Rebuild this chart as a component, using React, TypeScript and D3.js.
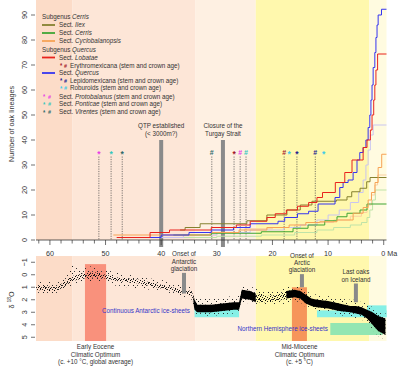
import React from 'react';
import * as d3 from 'd3';

// geologic time bands (Ma)
const epochNames = ['Paleocene', 'Eocene', 'Oligocene', 'Neogene', 'Quaternary'];
const epochStart = [62.5, 56, 33.9, 23, 2.58];
const epochEnd = [56, 33.9, 23, 2.58, -0.5];

// lineages through time: [age (Ma), number of lineages]
const ilex = [[36.6, 4], [35.7, 5], [33, 6.5], [24.6, 7.7], [21, 10], [17.4, 12], [15, 14], [12.9, 15.5], [8.5, 16], [6.6, 17.3], [5.75, 19.3], [4.26, 20.7], [3.06, 23.3], [2.46, 25]];
const cerris = [[37.8, 2], [31, 2.7], [22, 3.3], [16.3, 4.7], [13.6, 6], [10.6, 7.7], [8.4, 9.3], [6.6, 10.7], [4.26, 12], [3, 14.4]];
const cyclobalanopsis = [[48.6, 2], [31.2, 3], [26, 4], [21, 5], [17, 6], [14, 7], [11.5, 7.3], [8.4, 8], [5.5, 10.7], [3.7, 13], [2.8, 16], [2.2, 19], [1.56, 23], [1.0, 29], [0.36, 34.3]];
const lobatae = [[48, 1], [42, 3], [38.5, 4], [31, 5], [26.5, 6], [24, 7.5], [21, 9], [19.5, 10.5], [17.5, 12], [15.5, 13.5], [13.5, 15], [12, 17], [11, 19], [8.7, 23], [7, 27], [5.7, 32], [3.7, 37], [3, 40], [2.4, 44], [2.1, 50], [1.8, 56], [1.6, 62], [1.4, 68], [1.1, 74.4]];
const quercus = [[45, 1], [40, 2], [35, 3], [31, 4], [27, 5], [24, 6.5], [19, 7.5], [17.8, 9], [15.5, 10.5], [13.5, 11.5], [11.8, 14.4], [8.75, 17], [7.9, 21], [7.3, 23], [6.4, 24], [5.5, 27], [4.8, 32], [4.3, 35], [3.7, 37], [3.2, 40], [2.8, 45], [2.5, 50], [2.3, 56], [2.1, 62], [1.9, 69], [1.6, 75], [1.4, 81], [1.2, 86], [1.0, 90], [0.4, 92.3]];
const cyclobalanopsisCrown = [[44, 1], [36, 2], [30, 3], [25, 4.5], [20, 5], [16, 6], [12, 7], [9, 8], [6, 9.5], [4, 11], [3, 14], [2.2, 18], [1.6, 22], [1.1, 26]];
const cerrisCrown = [[40, 1], [30, 1.5], [22, 2], [16, 3], [12, 4], [9, 5], [6, 6], [4, 7], [3, 9], [2.5, 12], [2, 16], [1.5, 20]];
const quercusCrown = [[42, 1], [36, 2], [30, 3], [24, 4], [18, 5], [15, 6], [12, 8], [10, 10], [8, 12], [6, 15], [4.5, 19], [3.7, 24], [3.2, 30], [2.8, 36], [2.4, 42], [1.9, 46]];

// stem (*) and crown (#) ages of informal groups
const eventAges = [51.2, 49.0, 47.0, 30.9, 26.9, 25.8, 24.75, 17.9, 17.0, 15.6, 12.3, 10.8];
const eventSymbols = ['*', '*', '*', '#', '*', '#', '#', '#', '*', '*', '#', '*'];
const eventGroups = ['proto', 'ponticae', 'virentes', 'virentes', 'erythro', 'proto', 'ponticae', 'erythro', 'robur', 'lepido', 'lepido', 'robur'];
const eventHasLine = [true, true, true, true, true, true, true, true, false, true, true, false];

// oxygen isotope record: age, core band and outer scatter (δ18O ‰)
const d18oAge = [62.5, 61, 59, 57.5, 56, 55, 54, 52, 50, 48, 46, 44, 42, 40, 38, 36, 34.5, 34, 33.5, 31, 29, 27, 26, 25.5, 24, 23, 21, 19, 17.5, 16, 15, 14, 13, 12, 10, 8, 6, 5, 4, 3, 2, 1, -0.3];
const d18oCoreLo = [0.9, 0.9, 1.0, 0.6, 0.1, 0.0, -0.1, -0.2, 0.0, 0.2, 0.3, 0.4, 0.6, 0.8, 1.0, 1.2, 1.3, 2.0, 2.4, 2.4, 2.3, 2.2, 2.2, 1.2, 1.3, 1.5, 1.7, 1.6, 1.3, 1.2, 1.3, 1.6, 1.9, 2.0, 2.1, 2.3, 2.5, 2.5, 2.6, 2.8, 3.0, 3.3, 3.5];
const d18oCoreHi = [1.2, 1.3, 1.3, 1.0, 0.5, 0.4, 0.3, 0.2, 0.3, 0.5, 0.6, 0.7, 0.9, 1.1, 1.3, 1.5, 1.7, 2.8, 3.0, 3.0, 2.9, 2.8, 2.8, 1.9, 2.0, 2.2, 2.2, 2.1, 1.9, 1.8, 1.9, 2.3, 2.5, 2.6, 2.7, 2.9, 3.0, 3.1, 3.2, 3.5, 4.0, 4.5, 4.8];
const d18oLo = [0.6, 0.5, 0.6, 0.3, -0.9, -0.5, -0.6, -0.7, -0.4, -0.2, 0.0, 0.1, 0.3, 0.4, 0.7, 0.9, 1.0, 1.6, 1.8, 1.9, 1.8, 1.7, 1.7, 0.9, 1.0, 1.0, 1.3, 1.2, 1.0, 0.9, 1.0, 1.3, 1.5, 1.6, 1.7, 1.9, 2.0, 2.0, 2.2, 2.3, 2.6, 2.9, 3.0];
const d18oHi = [1.5, 1.5, 1.5, 1.3, 0.8, 0.7, 0.6, 0.5, 0.6, 0.9, 1.0, 1.1, 1.2, 1.3, 1.5, 1.8, 2.0, 3.0, 3.2, 3.3, 3.2, 3.1, 3.0, 2.2, 2.3, 2.5, 2.5, 2.4, 2.3, 2.1, 2.2, 2.6, 2.8, 2.9, 3.0, 3.2, 3.4, 3.5, 3.6, 3.8, 4.4, 4.9, 5.2];
const denseSpans = [[34.2, 23], [17.5, -0.5]];

// climate events
const optimumNames = ['EECO', 'MMCO'];
const optimumFrom = [53.7, 16.5];
const optimumTo = [49.9, 13.8];
const optimumTop = [-0.85, 1.0];
const optimumCaptions = [['Early Eocene', 'Climatic Optimum', '(c. +10 °C, global average)'], ['Mid-Miocene', 'Climatic Optimum', '(c. +5 °C)']];
const iceFrom = [34, 12, 3, 9.6];
const iceTo = [26, -0.5, -0.5, 0.2];
const iceTop = [2.55, 2.85, 2.45, 3.86];
const iceBottom = [3.4, 3.4, 3.4, 4.82];
const iceKinds = ['antarctic', 'antarctic', 'antarctic', 'northern'];

const topBarAges = [40.0, 28.9];
const topBarTop = [40, 40];
const topBarLabels = [['QTP established', '(< 3000m?)'], ['Closure of the', 'Turgay Strait']];
const botBarAges = [35.9, 14.7, 5.0];
const botBarFrom = [-0.15, -0.05, 0.7];
const botBarTo = [1.5, 1.0, 2.2];
const botBarLabels = [['Onset of', 'Antarctic', 'glaciation'], ['Onset of', 'Arctic', 'glaciation'], ['Last oaks', 'on Iceland']];

const yTicksTop = [0, 10, 20, 30, 40, 50, 60, 70, 80, 90];
const yTicksBot = [-1, 0, 1, 2, 3, 4, 5];

const epochColors = ['#fcdcc8', '#fde6d7', '#fef0e2', '#fff8ad', '#fffbe0'];
const colors = {
  ilex: '#85812f', cerris: '#3fa535', cyclo: '#f7a355', lobatae: '#e8231d', quercus: '#3535f0',
  cycloPale: '#f9cfa2', cerrisPale: '#bfe3a8', quercusPale: '#c9c5f0',
  erythro: '#a3162a', lepido: '#20208e', robur: '#3ccbe8', proto: '#e83ce6', ponticae: '#33c7bd', virentes: '#2e6a6a',
};
const font = "'Liberation Sans', Arial, sans-serif";
const SX = 0.9; // narrow the text a little, the original uses a condensed face

const x = d3.scaleLinear().domain([62.5, -0.5]).range([36, 386.5]);
const yTop = d3.scaleLinear().domain([0, 96]).range([240, 0]);
const yBot = d3.scaleLinear().domain([-1.5, 5.3]).range([256, 341]);

const stepLine = d3.line<number[]>().x(d => x(d[0])).y(d => yTop(d[1])).curve(d3.curveStepAfter);
const withEnd = (s: number[][]) => [...s, [-0.5, s[s.length - 1][1]]];

const series = [
  { data: cerrisCrown, color: colors.cerrisPale },
  { data: cyclobalanopsisCrown, color: colors.cycloPale },
  { data: quercusCrown, color: colors.quercusPale },
  { data: cerris, color: colors.cerris },
  { data: ilex, color: colors.ilex },
  { data: cyclobalanopsis, color: colors.cyclo },
  { data: quercus, color: colors.quercus },
  { data: lobatae, color: colors.lobatae },
];

const d18o = d18oAge.map((a, i) => ({ a, cl: d18oCoreLo[i], ch: d18oCoreHi[i], l: d18oLo[i], h: d18oHi[i] }));
const outerArea = d3.area<any>().x(d => x(d.a)).y0(d => yBot(d.l)).y1(d => yBot(d.h));
const coreArea = d3.area<any>().x(d => x(d.a)).y0(d => yBot(d.cl)).y1(d => yBot(d.ch));

const T = ({ x: tx, y: ty, rot, anchor, size = 7, fill = '#333', children, ...rest }: any) => (
  <text transform={`translate(${tx},${ty})${rot ? ` rotate(${rot})` : ''} scale(${SX},1)`}
    textAnchor={anchor} fontSize={size} fill={fill} {...rest}>{children}</text>
);

const Legend = () => {
  const lineRows = [
    { y: 25, color: colors.ilex, name: 'Ilex' },
    { y: 33, color: colors.cerris, name: 'Cerris' },
    { y: 41, color: colors.cyclo, name: 'Cyclobalanopsis' },
    { y: 57.5, color: colors.lobatae, name: 'Lobatae' },
    { y: 73, color: colors.quercus, name: 'Quercus' },
  ];
  const subRows = [
    { y: 65.5, group: 'erythro', label: 'Erythromexicana (stem and crown age)' },
    { y: 80.5, group: 'lepido', label: 'Lepidomexicana (stem and crown age)' },
    { y: 88, group: 'robur', label: 'Roburoids (stem and crown age)' },
  ];
  const sectRows = [
    { y: 96.5, group: 'proto', name: 'Protobalanus' },
    { y: 104, group: 'ponticae', name: 'Ponticae' },
    { y: 112, group: 'virentes', name: 'Virentes' },
  ];
  return (
    <g>
      <T x={42} y={17} dy="0.35em">Subgenus <tspan fontStyle="italic">Cerris</tspan></T>
      <T x={42} y={49.5} dy="0.35em">Subgenus <tspan fontStyle="italic">Quercus</tspan></T>
      {lineRows.map(r => (
        <g key={r.name}>
          <line x1={42} x2={55} y1={r.y} y2={r.y} stroke={r.color} strokeWidth={1.8} />
          <T x={59} y={r.y} dy="0.35em">Sect. <tspan fontStyle="italic">{r.name}</tspan></T>
        </g>
      ))}
      {subRows.map(r => (
        <g key={r.label}>
          <T x={60} y={r.y + 0.5} dy="0.35em" fill={(colors as any)[r.group]} fontWeight="bold" size={6.5}>*</T>
          <T x={64} y={r.y} dy="0.35em" fill={(colors as any)[r.group]} fontWeight="bold" size={6}>#</T>
          <T x={70} y={r.y} dy="0.35em">{r.label}</T>
        </g>
      ))}
      {sectRows.map(r => (
        <g key={r.name}>
          <T x={43} y={r.y + 0.5} dy="0.35em" fill={(colors as any)[r.group]} fontWeight="bold" size={6.5}>*</T>
          <T x={48} y={r.y} dy="0.35em" fill={(colors as any)[r.group]} fontWeight="bold" size={6}>#</T>
          <T x={59} y={r.y} dy="0.35em">Sect. <tspan fontStyle="italic">{r.name}</tspan> (stem and crown age)</T>
        </g>
      ))}
    </g>
  );
};

const App = () => {
  const xTicks = d3.range(62, -1, -2);
  const markerY = yTop(35);
  const clipRects = denseSpans.map(s => ({ x0: x(s[0]), x1: x(s[1]) }));
  return (
    <div style={{ position: 'absolute', left: 0, top: 0 }}>
      <svg width={400} height={366} fontFamily={font} style={{ display: 'block', background: '#fff' }}>
        <defs>
          <pattern id="dotsSparse" width={9} height={7} patternUnits="userSpaceOnUse">
            <rect x={0} y={0} width={1} height={1} fill="#222" />
            <rect x={4} y={2} width={1} height={1} fill="#333" />
            <rect x={7} y={5} width={1} height={1} fill="#222" />
            <rect x={2} y={5} width={1} height={1} fill="#444" />
          </pattern>
          <pattern id="dotsCore" width={5} height={4} patternUnits="userSpaceOnUse">
            <rect x={0} y={0} width={1} height={1} fill="#000" />
            <rect x={2} y={1} width={1} height={1} fill="#222" />
            <rect x={4} y={2} width={1} height={1} fill="#000" />
            <rect x={1} y={3} width={1} height={1} fill="#333" />
            <rect x={3} y={3} width={1} height={1} fill="#111" />
          </pattern>
          <clipPath id="denseClip">
            {clipRects.map((c, i) => <rect key={i} x={c.x0} y={250} width={c.x1 - c.x0} height={100} />)}
          </clipPath>
        </defs>

        {/* epoch backgrounds, both panels */}
        {epochNames.map((n, i) => (
          <g key={n}>
            <rect x={x(epochStart[i])} y={0} width={x(epochEnd[i]) - x(epochStart[i])} height={yTop(0)} fill={epochColors[i]} />
            <rect x={x(epochStart[i])} y={yBot(-1.5)} width={x(epochEnd[i]) - x(epochStart[i])} height={yBot(5.3) - yBot(-1.5)} fill={epochColors[i]} />
          </g>
        ))}

        {/* top panel */}
        <Legend />
        {topBarAges.map((a, i) => (
          <g key={i}>
            <rect x={x(a) - 2} y={yTop(topBarTop[i])} width={4} height={yTop(0) - yTop(topBarTop[i]) + 7} fill="#8a8a8a" />
            {topBarLabels[i].map((t, j) => (
              <T key={j} x={x(a)} y={126 + j * 7.5} dy="0.35em" anchor="middle">{t}</T>
            ))}
          </g>
        ))}
        {eventAges.map((a, i) => eventHasLine[i] && (
          <line key={i} x1={x(a)} x2={x(a)} y1={markerY + 4} y2={yTop(0)} stroke="#444" strokeWidth={0.7} strokeDasharray="1.2,1.2" />
        ))}
        {series.map((s, i) => (
          <path key={i} d={stepLine(withEnd(s.data)) || ''} fill="none" stroke={s.color} strokeWidth={1} />
        ))}
        {eventAges.map((a, i) => (
          <text key={i} x={x(a)} y={markerY + (eventSymbols[i] === '*' ? 1.5 : 0)} dy="0.35em" textAnchor="middle"
            fontSize={eventSymbols[i] === '*' ? 8.5 : 7} fontWeight="bold" fill={(colors as any)[eventGroups[i]]}>{eventSymbols[i]}</text>
        ))}

        {/* x axis */}
        <line x1={36} x2={386.5} y1={yTop(0)} y2={yTop(0)} stroke="#333" strokeWidth={0.8} />
        {xTicks.map(t => (
          <line key={t} x1={x(t)} x2={x(t)} y1={yTop(0)} y2={yTop(0) + (t % 10 === 0 ? 5 : 3.5)} stroke="#333" strokeWidth={0.7} />
        ))}
        {xTicks.filter(t => t % 10 === 0).map(t => (
          t === 0
            ? <T key={t} x={x(t) - 2.5} y={253} dy="0.35em" size={8}>0 Ma</T>
            : <T key={t} x={x(t)} y={253} dy="0.35em" anchor="middle" size={8}>{t}</T>
        ))}

        {/* top y axis */}
        {yTicksTop.map(t => (
          <g key={t}>
            <line x1={31} x2={35} y1={yTop(t)} y2={yTop(t)} stroke="#333" strokeWidth={0.7} />
            <T x={26.5} y={yTop(t)} rot={-90} anchor="middle" size={8}>{t}</T>
          </g>
        ))}
        <T x={14} y={124} rot={-90} anchor="middle" size={8}>Number of oak lineages</T>

        {/* bottom panel */}
        {optimumNames.map((n, i) => (
          <rect key={n} x={x(optimumFrom[i])} y={yBot(optimumTop[i])} width={x(optimumTo[i]) - x(optimumFrom[i])}
            height={yBot(5.3) - yBot(optimumTop[i])} fill={i === 0 ? '#f9917c' : '#f6955a'} />
        ))}
        {iceFrom.map((a, i) => (
          <rect key={i} x={x(a)} y={yBot(iceTop[i])} width={x(iceTo[i]) - x(a)} height={yBot(iceBottom[i]) - yBot(iceTop[i])}
            fill={iceKinds[i] === 'antarctic' ? '#86f0e6' : '#93e6b2'} />
        ))}
        <path d={outerArea(d18o) || ''} fill="url(#dotsSparse)" />
        <path d={coreArea(d18o) || ''} fill="url(#dotsCore)" />
        <path d={coreArea(d18o) || ''} fill="#000" clipPath="url(#denseClip)" />
        <T x={190} y={311} dy="0.35em" anchor="end" size={7} fill="#3434c8">Continuous Antarctic ice-sheets</T>
        <T x={328} y={329} dy="0.35em" anchor="end" size={7} fill="#3434c8">Northern Hemisphere ice-sheets</T>
        {botBarAges.map((a, i) => (
          <g key={i}>
            <rect x={x(a) - 2} y={yBot(botBarFrom[i])} width={4} height={yBot(botBarTo[i]) - yBot(botBarFrom[i])} fill="#8a8a8a" />
            {botBarLabels[i].map((t, j) => (
              <T key={j} x={x(a)} y={yBot(botBarFrom[i]) - 2 - (botBarLabels[i].length - 1 - j) * 7.2} anchor="middle">{t}</T>
            ))}
          </g>
        ))}

        {/* bottom y axis */}
        {yTicksBot.map(t => (
          <g key={t}>
            <line x1={31} x2={35} y1={yBot(t)} y2={yBot(t)} stroke="#333" strokeWidth={0.7} />
            <T x={26.5} y={yBot(t)} rot={-90} anchor="middle" size={8}>{t < 0 ? `\u2212${-t}` : t}</T>
          </g>
        ))}
        <T x={14} y={300} rot={-90} anchor="middle" size={8}>δ <tspan fontSize={5.5} dy={-3}>18</tspan><tspan dy={3}>O</tspan></T>

        {/* climatic optimum captions */}
        {optimumCaptions.map((lines, i) => (
          <g key={i}>
            {lines.map((t, j) => (
              <T key={j} x={x((optimumFrom[i] + optimumTo[i]) / 2)} y={347 + j * 7.2} dy="0.35em" anchor="middle">{t}</T>
            ))}
          </g>
        ))}
      </svg>
    </div>
  );
};

export default App;
